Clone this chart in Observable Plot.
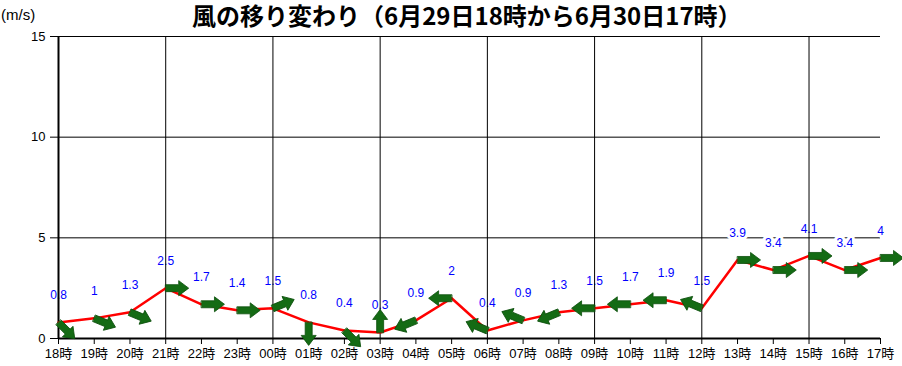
<!DOCTYPE html>
<html>
<head>
<meta charset="utf-8">
<script src="https://cdn.jsdelivr.net/npm/d3@7"></script>
<script src="https://cdn.jsdelivr.net/npm/@observablehq/plot@0.6"></script>
<style>
  body { margin: 0; background: #fff; }
  #wrap { position: relative; width: 902px; height: 366px; }
  #title { position: absolute; left: 192px; top: 1px; z-index: 2;
           font: bold 24px "Noto Sans CJK JP", sans-serif; line-height: 28px; color: #000; white-space: nowrap; }
  #unit { position: absolute; left: 1px; top: 6px; z-index: 2; font: 15px "Liberation Sans", Arial, sans-serif; color: #000; }
  #chart { position: absolute; left: 0; top: 26px; z-index: 1; }
  #chart svg { background: transparent !important; }
</style>
</head>
<body>
<div id="wrap">
  <div id="chart"></div>
  <div id="title">風の移り変わり（6月29日18時から6月30日17時）</div>
  <div id="unit">(m/s)</div>
</div>
<script>
const hours = ["18時","19時","20時","21時","22時","23時","00時","01時","02時","03時","04時","05時",
               "06時","07時","08時","09時","10時","11時","12時","13時","14時","15時","16時","17時"];
const speeds = [0.8, 1, 1.3, 2.5, 1.7, 1.4, 1.5, 0.8, 0.4, 0.3, 0.9, 2,
                0.4, 0.9, 1.3, 1.5, 1.7, 1.9, 1.5, 3.9, 3.4, 4.1, 3.4, 4];
// direction each arrow points to (16-point compass)
const arrowTo = ["SE","ESE","ESE","E","E","E","ENE","S","SE","N","WSW","W",
                 "WNW","WNW","WSW","W","W","W","WNW","E","E","E","E","E"];
const yTicks = [0, 5, 10, 15];
const gridHours = ["18時","21時","00時","03時","06時","09時","12時","15時"];
const compass = ["N","NNE","NE","ENE","E","ESE","SE","SSE","S","SSW","SW","WSW","W","WNW","NW","NNW"];

const data = hours.map((h, i) => ({hour: h, speed: speeds[i], angle: compass.indexOf(arrowTo[i]) * 22.5}));

const blockArrow = {
  draw(context, l) {
    const s = 3.5, h = 7.5, hl = 10;
    context.moveTo(-s, 0);
    context.lineTo(-s, -(l - hl));
    context.lineTo(-h, -(l - hl));
    context.lineTo(0, -l);
    context.lineTo(h, -(l - hl));
    context.lineTo(s, -(l - hl));
    context.lineTo(s, 0);
    context.closePath();
  }
};

const fontNum = "'Liberation Sans', Arial, 'Noto Sans CJK JP', sans-serif";

const chart = Plot.plot({
  width: 902,
  height: 340,
  marginLeft: 58,
  marginRight: 22,
  marginTop: 10,
  marginBottom: 28,
  style: {fontFamily: fontNum, background: "transparent", overflow: "visible"},
  x: {type: "point", domain: hours, padding: 0, round: false, range: [58, 880]},
  y: {domain: [0, 15], range: [312, 10]},
  marks: [
    Plot.ruleY([5, 10, 15], {stroke: "black", strokeWidth: 1}),
    Plot.text(data, {x: "hour", y: "speed", text: d => String(d.speed), dy: -27,
      fill: "#0000ff", stroke: "white", strokeWidth: 6, paintOrder: "stroke", fontSize: 12}),
    Plot.ruleX(gridHours, {stroke: "black", strokeWidth: 1}),
    Plot.axisY({ticks: yTicks, tickSize: 8, tickPadding: 5, fontSize: 13, label: null, stroke: "black", fill: "black"}),
    Plot.axisX({tickSize: 6, tickPadding: 4, fontSize: 13, label: null, stroke: "black", fill: "black"}),
    Plot.ruleY([0], {stroke: "black", strokeWidth: 2}),
    Plot.ruleX([hours[0]], {stroke: "black", strokeWidth: 2}),
    Plot.line(data, {x: "hour", y: "speed", stroke: "red", strokeWidth: 2.5}),
    Plot.vector(data, {x: "hour", y: "speed", rotate: "angle", length: 23, anchor: "start",
      shape: blockArrow, fill: "#146b14", stroke: "#0b4f0b", strokeWidth: 0.8, strokeLinejoin: "miter"})
  ]
});
document.getElementById("chart").appendChild(chart);
</script>
</body>
</html>
